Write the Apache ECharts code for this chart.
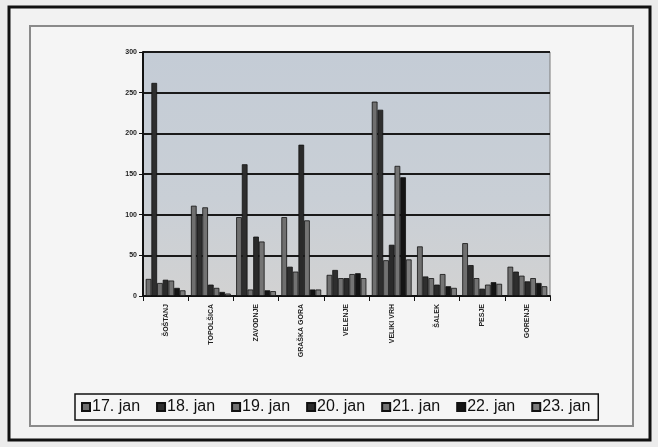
<!DOCTYPE html>
<html><head><meta charset="utf-8">
<script src="https://cdn.jsdelivr.net/npm/echarts@6/dist/echarts.min.js"></script>
<style>html,body{margin:0;padding:0;background:#ececec;}#c{width:658px;height:447px;}</style>
</head><body><div id="c"></div>
<script>
const categories = ['ŠOŠTANJ','TOPOLŠICA','ZAVODNJE','GRAŠKA GORA','VELENJE','VELIKI VRH','ŠALEK','PESJE','GORENJE'];
const seriesNames = ['17. jan','18. jan','19. jan','20. jan','21. jan','22. jan','23. jan'];
const jan17 = [21, 111, 97, 97, 26, 239, 61, 65, 36];
const jan18 = [262, 100, 162, 36, 32, 229, 24, 38, 30];
const jan19 = [16, 109, 8, 30, 22, 44, 22, 22, 25];
const jan20 = [20, 14, 73, 186, 22, 63, 14, 9, 18];
const jan21 = [19, 10, 67, 93, 27, 160, 27, 14, 22];
const jan22 = [10, 5, 7, 8, 28, 146, 12, 17, 16];
const jan23 = [7, 3, 6, 8, 22, 45, 10, 15, 12];
const yTicks = [0, 50, 100, 150, 200, 250, 300];

const allData = [jan17, jan18, jan19, jan20, jan21, jan22, jan23];
const colors = ['#6f6f6f','#2e2e2e','#727272','#2a2a2a','#747474','#141414','#7c7c7c'];

const chart = echarts.init(document.getElementById('c'), null, {renderer:'canvas'});
chart.setOption({
  animation:false,
  backgroundColor:'#ececec',
  graphic:[
    {type:'rect', shape:{x:9,y:7,width:641,height:433}, style:{fill:'#f2f2f2', stroke:'#111', lineWidth:3}, z:-10},
    {type:'rect', shape:{x:30,y:26,width:603,height:400}, style:{fill:'#f5f5f5', stroke:'#8a8a8a', lineWidth:2}, z:-9}
  ],
  grid:{left:143, right:108, top:52, bottom:151, show:true,
    backgroundColor:{type:'linear',x:0,y:0,x2:0,y2:1,colorStops:[{offset:0,color:'#c4ccd6'},{offset:0.6,color:'#c9cfd6'},{offset:1,color:'#d2d2d2'}]},
    borderColor:'#7a7a7a', borderWidth:1},
  legend:{
    data:seriesNames, left:75, top:394, orient:'horizontal',
    borderColor:'#111', borderWidth:1.5, padding:[5,8,5,6],
    itemWidth:8, itemHeight:8, itemGap:16, icon:'rect',
    textStyle:{fontFamily:'Liberation Sans, Arial', fontSize:16, color:'#111', padding:[0,0,0,-3]}
  },
  xAxis:{type:'category', data:categories,
    axisLine:{lineStyle:{color:'#111', width:2}},
    axisTick:{show:true, length:5, lineStyle:{color:'#111', width:1}},
    axisLabel:{rotate:90, fontSize:7, fontWeight:'bold', color:'#222', fontFamily:'Liberation Sans, Arial', margin:8}
  },
  yAxis:{type:'value', min:yTicks[0], max:yTicks[yTicks.length-1], interval:50,
    axisLine:{show:true, lineStyle:{color:'#111', width:2}},
    axisTick:{show:true, length:4, lineStyle:{color:'#111'}},
    axisLabel:{fontSize:7, fontWeight:'bold', color:'#222', fontFamily:'Liberation Sans, Arial', margin:6},
    splitLine:{lineStyle:{color:'#1a1a1a', width:2}}
  },
  series: allData.map((d,i)=>({
    name:seriesNames[i], type:'bar', data:d,
    barGap:'0%', barCategoryGap:'12%',
    itemStyle:{color:colors[i], borderColor:'#111', borderWidth:0.8}
  }))
});
</script></body></html>
